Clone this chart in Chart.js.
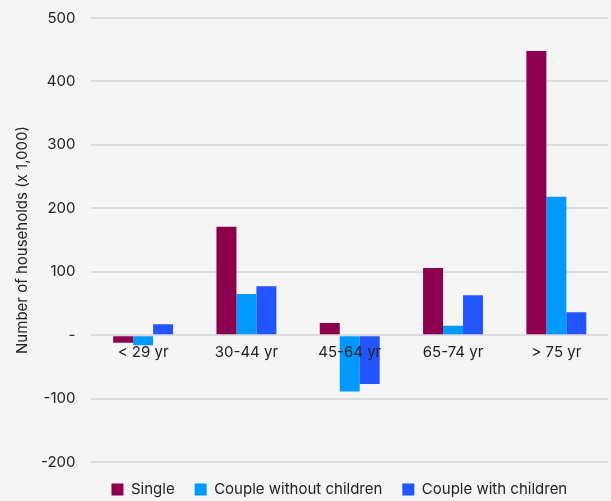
<!DOCTYPE html>
<html>
<head>
<meta charset="utf-8">
<script src="https://cdn.jsdelivr.net/npm/chart.js@4"></script>
<style>
  body { margin: 0; background: #f5f5f5; overflow: hidden; }
  #wrap { width: 611px; height: 501px; overflow: hidden; }
  #chart { display: block; margin-top: -7px; }
</style>
</head>
<body>
<div id="wrap"><canvas id="chart" width="611" height="508"></canvas></div>
<script>
// categories and series (x 1,000 households)
const categories = ["< 29 yr", "30-44 yr", "45-64 yr", "65-74 yr", "> 75 yr"];
const single = [-12, 171, 19, 106, 448];
const coupleNoKids = [-16, 65, -89, 15, 218];
const coupleKids = [17, 77, -77, 63, 36];
const yTicks = [-200, -100, 0, 100, 200, 300, 400, 500];

const ctx = document.getElementById("chart").getContext("2d");

new Chart(ctx, {
  type: "bar",
  data: {
    labels: categories,
    datasets: [
      { label: "Single", data: single, backgroundColor: "#8c004e" },
      { label: "Couple without children", data: coupleNoKids, backgroundColor: "#0099ff" },
      { label: "Couple with children", data: coupleKids, backgroundColor: "#2255ff" },
    ],
  },
  options: {
    responsive: false,
    animation: false,
    layout: { padding: { top: 0, right: 3, left: 13, bottom: -6 } },
    datasets: { bar: { categoryPercentage: 0.58, barPercentage: 1 } },
    plugins: {
      tooltip: { enabled: false },
      legend: {
        position: "bottom",
        align: "start",
        fullSize: false,
        labels: {
          boxWidth: 12,
          boxHeight: 12,
          padding: 20,
          color: "#222",
          font: { family: "Inter", size: 15 },
        },
      },
    },
    scales: {
      x: {
        position: { y: 0 },
        grid: { display: false },
        border: { display: false },
        ticks: { z: 1, color: "#222", padding: 0, font: { family: "Inter", size: 15 } },
      },
      y: {
        min: -200,
        max: 500,
        afterBuildTicks: (axis) => { axis.ticks = yTicks.map((v) => ({ value: v })); },
        grid: { color: "#dcdcdc", lineWidth: 2, drawTicks: false },
        border: { display: false },
        ticks: {
          color: "#222",
          padding: 16,
          font: { family: "Inter", size: 15 },
          callback: (v) => (v === 0 ? "-" : v),
        },
        title: {
          display: true,
          text: "Number of households (x 1,000)",
          color: "#222",
          font: { family: "Inter", size: 15 },
          padding: { top: 0, bottom: -6 },
        },
      },
    },
  },
});
</script>
</body>
</html>
